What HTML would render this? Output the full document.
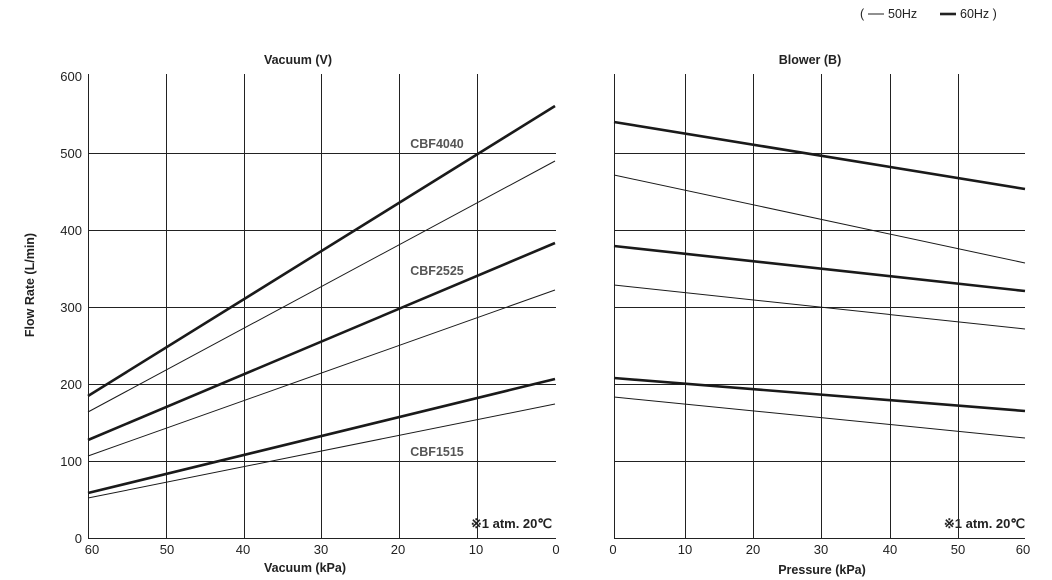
<!DOCTYPE html>
<html><head><meta charset="utf-8"><style>
html,body{margin:0;padding:0;background:#fff;}
svg{display:block;font-family:"Liberation Sans",Arial,sans-serif;}
</style></head><body>
<svg width="1052" height="580" viewBox="0 0 1052 580" xmlns="http://www.w3.org/2000/svg">
<g stroke="#222" stroke-width="1">
<!-- left grid -->
<line x1="88.5" y1="74" x2="88.5" y2="539"/>
<line x1="166.5" y1="74" x2="166.5" y2="539"/>
<line x1="244.5" y1="74" x2="244.5" y2="539"/>
<line x1="321.5" y1="74" x2="321.5" y2="539"/>
<line x1="399.5" y1="74" x2="399.5" y2="539"/>
<line x1="477.5" y1="74" x2="477.5" y2="539"/>
<line x1="88" y1="538.5" x2="556" y2="538.5"/>
<line x1="88" y1="153.5" x2="556" y2="153.5"/>
<line x1="88" y1="230.5" x2="556" y2="230.5"/>
<line x1="88" y1="307.5" x2="556" y2="307.5"/>
<line x1="88" y1="384.5" x2="556" y2="384.5"/>
<line x1="88" y1="461.5" x2="556" y2="461.5"/>
<!-- right grid -->
<line x1="614.5" y1="74" x2="614.5" y2="539"/>
<line x1="685.5" y1="74" x2="685.5" y2="539"/>
<line x1="753.5" y1="74" x2="753.5" y2="539"/>
<line x1="821.5" y1="74" x2="821.5" y2="539"/>
<line x1="890.5" y1="74" x2="890.5" y2="539"/>
<line x1="958.5" y1="74" x2="958.5" y2="539"/>
<line x1="614" y1="538.5" x2="1025" y2="538.5"/>
<line x1="614" y1="153.5" x2="1025" y2="153.5"/>
<line x1="614" y1="230.5" x2="1025" y2="230.5"/>
<line x1="614" y1="307.5" x2="1025" y2="307.5"/>
<line x1="614" y1="384.5" x2="1025" y2="384.5"/>
<line x1="614" y1="461.5" x2="1025" y2="461.5"/>
</g>
<g stroke="#1a1a1a" fill="none">
<line x1="88" y1="396" x2="555" y2="106" stroke-width="2.6"/>
<line x1="88" y1="412" x2="555" y2="161" stroke-width="1"/>
<line x1="88" y1="440" x2="555" y2="243" stroke-width="2.6"/>
<line x1="88" y1="456" x2="555" y2="290" stroke-width="1"/>
<line x1="88" y1="493" x2="555" y2="379" stroke-width="2.6"/>
<line x1="88" y1="498" x2="555" y2="404" stroke-width="1"/>
<line x1="614" y1="122" x2="1025" y2="189" stroke-width="2.6"/>
<line x1="614" y1="175" x2="1025" y2="263" stroke-width="1"/>
<line x1="614" y1="246" x2="1025" y2="291" stroke-width="2.6"/>
<line x1="614" y1="285" x2="1025" y2="329" stroke-width="1"/>
<line x1="614" y1="378" x2="1025" y2="411" stroke-width="2.6"/>
<line x1="614" y1="397" x2="1025" y2="438" stroke-width="1"/>
</g>
<g font-size="13" fill="#222" text-anchor="end">
<text x="82" y="81">600</text><text x="82" y="158">500</text><text x="82" y="235">400</text>
<text x="82" y="312">300</text><text x="82" y="389">200</text><text x="82" y="466">100</text><text x="82" y="543">0</text>
</g>
<g font-size="13" fill="#222" text-anchor="middle">
<text x="92" y="554">60</text><text x="167" y="554">50</text><text x="243" y="554">40</text><text x="321" y="554">30</text>
<text x="398" y="554">20</text><text x="476" y="554">10</text><text x="556" y="554">0</text>
<text x="613" y="554">0</text><text x="685" y="554">10</text><text x="753" y="554">20</text><text x="821" y="554">30</text>
<text x="890" y="554">40</text><text x="958" y="554">50</text><text x="1023" y="554">60</text>
</g>
<g font-size="12.5" font-weight="bold" fill="#222" text-anchor="middle">
<text x="298" y="64">Vacuum (V)</text>
<text x="810" y="64">Blower (B)</text>
<text x="305" y="572">Vacuum  (kPa)</text>
<text x="822" y="574">Pressure (kPa)</text>
<text transform="translate(34,285) rotate(-90)">Flow Rate (L/min)</text>
</g>
<g font-size="12.5" font-weight="bold" fill="#555" text-anchor="middle">
<text x="437" y="148">CBF4040</text>
<text x="437" y="275">CBF2525</text>
<text x="437" y="456">CBF1515</text>
</g>
<g font-size="13" font-weight="bold" fill="#222" text-anchor="end">
<text x="552" y="528">※1 atm. 20℃</text>
<text x="1025" y="528">※1 atm. 20℃</text>
</g>
<g font-size="12.5" fill="#222">
<text x="860" y="18">(</text>
<line x1="868" y1="14" x2="884" y2="14" stroke="#222" stroke-width="1"/>
<text x="888" y="18">50Hz</text>
<line x1="940" y1="14" x2="956" y2="14" stroke="#222" stroke-width="2.6"/>
<text x="960" y="18">60Hz )</text>
</g>
</svg>
</body></html>
